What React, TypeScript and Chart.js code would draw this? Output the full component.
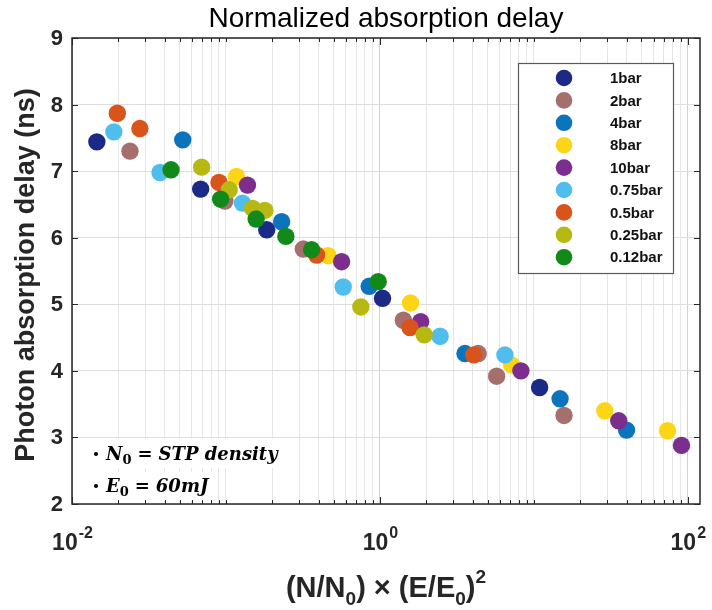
import React, { useEffect, useRef } from 'react';
import { Chart, registerables } from 'chart.js';

Chart.register(...registerables);

// ---------- data ----------
const seriesLabels = ['1bar', '2bar', '4bar', '8bar', '10bar', '0.75bar', '0.5bar', '0.25bar', '0.12bar'];
const seriesColors = ['#1b2a86', '#a46f6c', '#0c74bd', '#fcd516', '#7c2e8e', '#4fbeec', '#d9541a', '#b7b912', '#118a1a'];

const x1bar = [0.0145, 0.0685, 0.184, 1.04, 10.9];
const y1bar = [7.44, 6.73, 6.12, 5.09, 3.75];

const x2bar = [0.0238, 0.0985, 0.318, 1.42, 4.35, 5.73, 15.7];
const y2bar = [7.30, 6.55, 5.83, 4.76, 4.26, 3.92, 3.33];

const x4bar = [0.0524, 0.230, 0.852, 3.57, 14.8, 40.0];
const y4bar = [7.47, 6.24, 5.27, 4.26, 3.58, 3.11];

const x8bar = [0.117, 0.461, 1.58, 7.16, 28.9, 73.8];
const y8bar = [6.92, 5.73, 5.02, 4.09, 3.40, 3.10];

const x10bar = [0.138, 0.564, 1.84, 8.24, 35.6, 91.0];
const y10bar = [6.79, 5.64, 4.74, 4.00, 3.25, 2.88];

const x075bar = [0.0187, 0.0373, 0.128, 0.578, 2.46, 6.49];
const y075bar = [7.59, 6.98, 6.52, 5.26, 4.52, 4.24];

const x05bar = [0.0197, 0.0276, 0.0901, 0.388, 1.57, 4.07];
const y05bar = [7.87, 7.64, 6.83, 5.74, 4.65, 4.24];

const x025bar = [0.0695, 0.105, 0.149, 0.179, 0.752, 1.94];
const y025bar = [7.06, 6.72, 6.44, 6.41, 4.96, 4.54];

const x012bar = [0.0440, 0.0923, 0.157, 0.245, 0.360, 0.975];
const y012bar = [7.02, 6.58, 6.28, 6.02, 5.82, 5.34];

const seriesX = [x1bar, x2bar, x4bar, x8bar, x10bar, x075bar, x05bar, x025bar, x012bar];
const seriesY = [y1bar, y2bar, y4bar, y8bar, y10bar, y075bar, y05bar, y025bar, y012bar];

const xMin = 0.01;
const xMax = 120;
const yMin = 2;
const yMax = 9;
const xMajorTicks = [0.01, 1, 100];
const xMajorExponents = ['-2', '0', '2'];
const xDecadeExponents = [-2, -1, 0, 1];
const xMantissas = [1, 2, 3, 4, 5, 6, 7, 8, 9];
const yTicks = [2, 3, 4, 5, 6, 7, 8, 9];

const titleText = 'Normalized absorption delay';
const yTitleText = 'Photon absorption delay (ns)';

const SANS = '"Liberation Sans", Arial, Helvetica, sans-serif';
const SERIF = '"DejaVu Serif", "Liberation Serif", serif';

const xGridValues: number[] = [];
xDecadeExponents.forEach((e) => xMantissas.forEach((m) => xGridValues.push(m * Math.pow(10, e))));
xGridValues.push(100);

const isMajor = (v: number) => xMajorTicks.some((t) => Math.abs(t - v) / t < 1e-9);

const decorPlugin = {
  id: 'decor',
  afterDraw(chart: any) {
    const { ctx, chartArea: a } = chart;
    const xs = chart.scales.x;
    const ys = chart.scales.y;
    ctx.save();

    // annotation text boxes
    ctx.fillStyle = '#ffffff';
    ctx.fillRect(86, 439, 200, 29);
    ctx.fillRect(86, 472, 128, 29);

    // axes box
    ctx.strokeStyle = '#262626';
    ctx.lineWidth = 1.5;
    ctx.strokeRect(a.left, a.top, a.right - a.left, a.bottom - a.top);

    // inward ticks
    ctx.lineWidth = 1;
    ctx.beginPath();
    xGridValues.forEach((v) => {
      const px = Math.round(xs.getPixelForValue(v)) + 0.5;
      const len = isMajor(v) ? 7 : 4;
      ctx.moveTo(px, a.bottom);
      ctx.lineTo(px, a.bottom - len);
      ctx.moveTo(px, a.top);
      ctx.lineTo(px, a.top + len);
    });
    yTicks.forEach((v) => {
      const py = Math.round(ys.getPixelForValue(v)) + 0.5;
      ctx.moveTo(a.left, py);
      ctx.lineTo(a.left + 6, py);
      ctx.moveTo(a.right, py);
      ctx.lineTo(a.right - 6, py);
    });
    ctx.stroke();

    ctx.fillStyle = '#262626';
    // y tick labels
    ctx.font = `bold 22px ${SANS}`;
    ctx.textAlign = 'right';
    ctx.textBaseline = 'middle';
    yTicks.forEach((v) => {
      ctx.fillText(String(v), 63, ys.getPixelForValue(v) + 1);
    });

    // x tick labels (10^n)
    ctx.textBaseline = 'alphabetic';
    ctx.textAlign = 'left';
    xMajorTicks.forEach((v, i) => {
      const px = xs.getPixelForValue(v);
      ctx.font = `bold 23px ${SANS}`;
      const w1 = ctx.measureText('10').width;
      ctx.font = `bold 16px ${SANS}`;
      const w2 = ctx.measureText(xMajorExponents[i]).width;
      const start = px - (w1 + w2) / 2;
      ctx.font = `bold 23px ${SANS}`;
      ctx.fillText('10', start, 550);
      ctx.font = `bold 16px ${SANS}`;
      ctx.fillText(xMajorExponents[i], start + w1 + 1, 538);
    });

    // title
    ctx.fillStyle = '#000000';
    ctx.font = `28px ${SANS}`;
    ctx.textAlign = 'center';
    ctx.fillText(titleText, (a.left + a.right) / 2, 27);

    // y title
    ctx.fillStyle = '#262626';
    ctx.save();
    ctx.translate(27, (a.top + a.bottom) / 2 + 4);
    ctx.rotate(-Math.PI / 2);
    ctx.font = `bold 27px ${SANS}`;
    ctx.textAlign = 'center';
    ctx.textBaseline = 'middle';
    ctx.fillText(yTitleText, 0, 0);
    ctx.restore();

    // x title: (N/N0) × (E/E0)^2
    const big = `bold 29px ${SANS}`;
    const small = `bold 19px ${SANS}`;
    const parts: [string, string, number][] = [
      ['(N/N', big, 0],
      ['0', small, 8],
      [') \u00d7 (E/E', big, 0],
      ['0', small, 8],
      [')', big, 0],
      ['2', small, -14],
    ];
    let total = 0;
    parts.forEach(([t, f]) => {
      ctx.font = f;
      total += ctx.measureText(t).width;
    });
    let cx = (a.left + a.right) / 2 - total / 2;
    ctx.textAlign = 'left';
    ctx.textBaseline = 'alphabetic';
    parts.forEach(([t, f, dy]) => {
      ctx.font = f;
      ctx.fillText(t, cx, 597 + dy);
      cx += ctx.measureText(t).width;
    });

    // annotation text
    ctx.fillStyle = '#000000';
    const drawAnno = (sym: string, rest: string, base: number) => {
      ctx.beginPath();
      ctx.arc(96, base - 6, 2, 0, Math.PI * 2);
      ctx.fill();
      ctx.font = `italic bold 18px ${SERIF}`;
      ctx.fillText(sym, 106, base);
      let px = 106 + ctx.measureText(sym).width;
      ctx.font = `bold 13px ${SERIF}`;
      ctx.fillText('0', px, base + 4);
      px += ctx.measureText('0').width + 6;
      ctx.font = `italic bold 18px ${SERIF}`;
      ctx.fillText('=', px, base);
      px += ctx.measureText('=').width + 6;
      ctx.fillText(rest, px, base);
    };
    drawAnno('N', 'STP density', 460);
    drawAnno('E', '60mJ', 492);

    // legend
    const lx = 518, ly = 63, lw = 155, lh = 210;
    ctx.fillStyle = '#ffffff';
    ctx.fillRect(lx, ly, lw, lh);
    ctx.strokeStyle = '#5a5a5a';
    ctx.lineWidth = 1.2;
    ctx.strokeRect(lx + 0.5, ly + 0.5, lw, lh);
    ctx.font = `bold 15px ${SANS}`;
    ctx.textAlign = 'left';
    ctx.textBaseline = 'middle';
    seriesLabels.forEach((lab, i) => {
      const ry = 78 + i * 22.4;
      ctx.fillStyle = seriesColors[i];
      ctx.beginPath();
      ctx.arc(564, ry, 8.3, 0, Math.PI * 2);
      ctx.fill();
      ctx.fillStyle = '#111111';
      ctx.fillText(lab, 610, ry + 1);
    });

    ctx.restore();
  },
};

export default function App() {
  const canvasRef = useRef<HTMLCanvasElement | null>(null);

  useEffect(() => {
    const canvas = canvasRef.current;
    if (!canvas) return;
    const datasets = seriesLabels.map((label, i) => ({
      label,
      data: seriesX[i].map((x, j) => ({ x, y: seriesY[i][j] })),
      backgroundColor: seriesColors[i],
      borderColor: seriesColors[i],
      pointRadius: 8.7,
      pointBorderWidth: 0,
      pointHoverRadius: 8.7,
      order: seriesLabels.length - i,
    }));
    const chart = new Chart(canvas, {
      type: 'scatter',
      data: { datasets },
      options: {
        animation: false,
        responsive: false,
        maintainAspectRatio: false,
        devicePixelRatio: 1,
        layout: { padding: { top: 38, right: 12, left: 0, bottom: 0 } },
        plugins: {
          legend: { display: false },
          title: { display: false },
          tooltip: { enabled: false },
        },
        scales: {
          x: {
            type: 'logarithmic',
            min: xMin,
            max: xMax,
            afterBuildTicks: (scale: any) => {
              scale.ticks = xGridValues.map((v) => ({ value: v, major: isMajor(v) }));
            },
            afterFit: (scale: any) => {
              scale.height = 106;
            },
            ticks: { display: false },
            border: { display: false },
            grid: {
              drawTicks: false,
              color: (c: any) => (c.tick && c.tick.major ? '#d2d2d2' : '#e6e6e6'),
              lineWidth: 1,
            },
          },
          y: {
            type: 'linear',
            min: yMin,
            max: yMax,
            ticks: { display: false, stepSize: 1 },
            afterFit: (scale: any) => {
              scale.width = 72;
            },
            border: { display: false },
            grid: { drawTicks: false, color: '#dedede', lineWidth: 1 },
          },
        },
      },
      plugins: [decorPlugin],
    });
    return () => chart.destroy();
  }, []);

  return (
    <div style={{ position: 'absolute', left: 0, top: 0, width: 712, height: 610, background: '#ffffff' }}>
      <canvas ref={canvasRef} width={712} height={610} style={{ width: 712, height: 610, display: 'block' }} />
    </div>
  );
}
